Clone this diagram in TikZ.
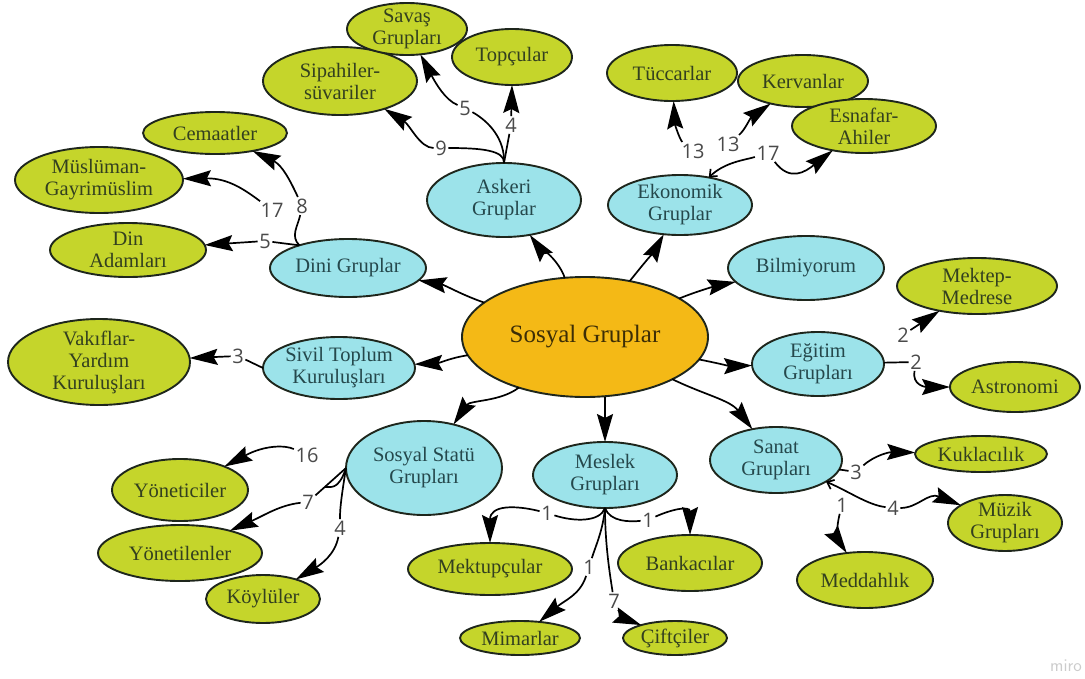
\documentclass[tikz,border=0pt]{standalone}
\usepackage{fontspec}
\setmainfont{Liberation Serif}
\newfontfamily\numfont{Open Sans}
\usetikzlibrary{shapes.geometric,arrows.meta}
\definecolor{leafc}{HTML}{C5D52B}
\definecolor{bluec}{HTML}{9CE3EA}
\definecolor{rootc}{HTML}{F4B916}
\definecolor{edgec}{HTML}{1E261C}
\definecolor{leaftxt}{HTML}{33401F}
\definecolor{bluetxt}{HTML}{25484C}
\definecolor{numc}{HTML}{4A4A4A}
\tikzset{
  oval/.style={ellipse, draw=edgec, line width=1.9pt, inner sep=0pt, outer sep=0pt},
  leaf/.style={oval, fill=leafc},
  grp/.style={oval, fill=bluec},
  lt/.style={align=center, text=leaftxt, font=\fontsize{20.5}{22}\selectfont},
  bt/.style={align=center, text=bluetxt, font=\fontsize{20.5}{22}\selectfont},
  num/.style={font=\numfont\fontsize{20}{20}\selectfont, text=numc, fill=white, inner sep=1.5pt},
  conn/.style={draw=black, line width=1.7pt},
  arr/.style={conn, -{Stealth[length=28pt, width=16pt, inset=4pt]}},
  sarr/.style={conn, -{Straight Barb[length=6pt, width=10pt]}},
}
\newcommand{\leafnode}[6]{\node[leaf, minimum width=#3, minimum height=#4, label={[lt]center:#6}] (#1) at (#2) {};}
\newcommand{\grpnode}[6]{\node[grp, minimum width=#3, minimum height=#4, label={[bt]center:#6}] (#1) at (#2) {};}
\begin{document}
\begin{tikzpicture}[x=1pt, y=-1pt]
\useasboundingbox (0,0) rectangle (1085,678);
% root
\node[oval, fill=rootc, minimum width=246, minimum height=120,
      label={[text=black!75!rootc, font=\fontsize{25}{25}\selectfont]center:Sosyal Gruplar}] (root) at (585,337) {};
% groups
\grpnode{askeri}{504,200}{154}{74}{}{Askeri\\Gruplar}
\grpnode{eko}{680,205}{144}{60}{}{Ekonomik\\Gruplar}
\grpnode{bilm}{806,268}{156}{64}{}{Bilmiyorum}
\grpnode{egi}{818,364}{132}{64}{}{Eğitim\\Grupları}
\grpnode{sanat}{776,460}{132}{66}{}{Sanat\\Grupları}
\grpnode{meslek}{605,475}{144}{66}{}{Meslek\\Grupları}
\grpnode{statu}{424,468}{156}{94}{}{Sosyal Statü\\Grupları}
\grpnode{sivil}{339,368}{152}{62}{}{Sivil Toplum\\Kuruluşları}
\grpnode{dini}{348,268}{156}{58}{}{Dini Gruplar}
% leaves
\leafnode{sip}{340,81}{154}{68}{}{Sipahiler-\\süvariler}
\leafnode{savas}{407,29}{120}{52}{}{Savaş\\Grupları}
\leafnode{top}{512,57}{120}{56}{}{Topçular}
\leafnode{cem}{215,133}{144}{42}{}{Cemaatler}
\leafnode{mus}{99,180}{168}{66}{}{Müslüman-\\Gayrimüslim}
\leafnode{din}{128,250}{156}{54}{}{Din\\Adamları}
\leafnode{vakif}{99,362}{182}{86}{}{Vakıflar-\\Yardım\\Kuruluşları}
\leafnode{tuc}{672,73}{130}{56}{}{Tüccarlar}
\leafnode{ker}{803,81}{130}{52}{}{Kervanlar}
\leafnode{esn}{864,126}{144}{54}{}{Esnafar-\\Ahiler}
\leafnode{mek}{977,286}{160}{56}{}{Mektep-\\Medrese}
\leafnode{ast}{1015,387}{130}{50}{}{Astronomi}
\leafnode{kuk}{981,454}{132}{36}{}{Kuklacılık}
\leafnode{muz}{1005,523}{114}{56}{}{Müzik\\Grupları}
\leafnode{medd}{865,580}{136}{56}{}{Meddahlık}
\leafnode{bank}{690,563}{144}{56}{}{Bankacılar}
\leafnode{cift}{675,638}{104}{34}{}{Çiftçiler}
\leafnode{mimar}{520,638}{120}{34}{}{Mimarlar}
\leafnode{mektup}{490,569}{164}{52}{}{Mektupçular}
\leafnode{yon}{180,490}{136}{62}{}{Yöneticiler}
\leafnode{yonl}{180,553}{164}{56}{}{Yönetilenler}
\leafnode{koy}{263,599}{114}{48}{}{Köylüler}
% root edges
\draw[arr] (root) .. controls (558,258) and (535,242) .. (askeri);
\draw[arr] (root) .. controls (645,262) and (655,250) .. (eko);
\draw[arr] (root) .. controls (700,290) and (720,285) .. (bilm);
\draw[arr] (root) .. controls (712,362) and (730,366) .. (egi);
\draw[arr] (root) .. controls (705,395) and (730,400) .. (sanat);
\draw[arr] (meslek.north |- root.south) -- (meslek.north);
\draw[arr] (root) .. controls (500,402) and (470,400) .. (statu);
\draw[arr] (root) .. controls (450,358) and (440,363) .. (sivil);
\draw[arr] (root) .. controls (462,295) and (445,285) .. (dini);
% askeri
\node[num] (a9) at (441,148) {9};
\node[num] (a5) at (465,108) {5};
\node[num] (a4) at (511,125) {4};
\draw[conn] (askeri.north) .. controls (505,150) and (480,148) .. (a9);
\draw[arr] (a9) .. controls (420,148) and (410,125) .. (sip);
\draw[conn] (askeri.north) .. controls (505,140) and (490,122) .. (a5);
\draw[arr] (a5) .. controls (445,100) and (435,82) .. (savas);
\draw[conn] (askeri.north) -- (a4);
\draw[arr] (a4) -- (top.south);
% dini
\node[num] (d8) at (302,206) {8};
\node[num] (d17) at (272,210) {17};
\node[num] (d5) at (265,241) {5};
\draw[conn] (dini.155) .. controls (290,236) and (298,226) .. (d8);
\draw[arr] (d8) .. controls (290,180) and (282,165) .. (cem);
\draw[arr] (d17) .. controls (245,190) and (228,178) .. (mus);
\draw[conn] (dini.155) -- (d5);
\draw[arr] (d5) -- (din);
% sivil
\node[num] (s3) at (238,356) {3};
\draw[conn] (sivil.west) -- (s3);
\draw[arr] (s3) -- (vakif);
% ekonomik
\node[num] (e13a) at (693,151) {13};
\node[num] (e13b) at (728,144) {13};
\node[num] (e17) at (768,153) {17};
\draw[arr] (e13a) .. controls (680,140) and (675,125) .. (tuc);
\draw[arr] (e13b) .. controls (745,130) and (750,118) .. (ker);
\draw[sarr] (e17) .. controls (745,160) and (725,162) .. (eko);
\draw[arr] (e17) .. controls (790,182) and (805,172) .. (esn);
% egitim
\node[num] (g2a) at (903,335) {2};
\node[num] (g2b) at (916,362) {2};
\draw[arr] (g2a) -- (mek);
\draw[conn] (egi) -- (g2b);
\draw[arr] (g2b) .. controls (912,385) and (925,387) .. (ast);
% sosyal statu
\node[num] (t16) at (307,455) {16};
\node[num] (t7) at (308,502) {7};
\node[num] (t4) at (340,528) {4};
\draw[arr] (t16) .. controls (285,445) and (265,445) .. (yon);
\draw[conn] (statu.west) -- (t7);
\draw[arr] (t7) .. controls (280,505) and (265,515) .. (yonl);
\draw[conn] (statu.west) .. controls (340,505) and (340,512) .. (t4);
\draw[arr] (t4) .. controls (335,555) and (320,565) .. (koy);
\draw[conn] (statu.west) .. controls (338,492) and (330,486) .. (325,487);
% meslek
\node[num] (m1a) at (547,513) {1};
\node[num] (m1b) at (648,520) {1};
\node[num] (m1c) at (589,567) {1};
\node[num] (m7) at (614,601) {7};
\draw[conn] (meslek.south) .. controls (600,522) and (575,522) .. (m1a);
\draw[arr] (m1a) .. controls (515,505) and (490,505) .. (mektup);
\draw[conn] (meslek.south) .. controls (610,522) and (630,522) .. (m1b);
\draw[arr] (m1b) .. controls (670,510) and (690,505) .. (bank);
\draw[conn] (meslek.south) .. controls (603,530) and (596,545) .. (m1c);
\draw[arr] (m1c) .. controls (580,595) and (565,600) .. (mimar);
\draw[conn] (meslek.south) .. controls (605,545) and (610,575) .. (m7);
\draw[arr] (m7) .. controls (622,618) and (628,620) .. (cift);
% sanat
\node[num] (n3) at (856,472) {3};
\node[num] (n4) at (893,508) {4};
\node[num] (n1) at (842,505) {1};
\draw[conn] (sanat) -- (n3);
\draw[arr] (n3) .. controls (875,455) and (890,452) .. (kuk);
\draw[sarr] (n4) .. controls (868,505) and (850,492) .. (sanat);
\draw[arr] (n4) .. controls (918,508) and (928,492) .. (muz);
\draw[arr] (n1) .. controls (836,528) and (838,540) .. (medd);
% watermark
\node[text=black!20, font=\sffamily\fontsize{18}{18}\selectfont, anchor=base west, inner sep=0pt] (miro) at (1050,671) {miro};
\end{tikzpicture}
\end{document}
